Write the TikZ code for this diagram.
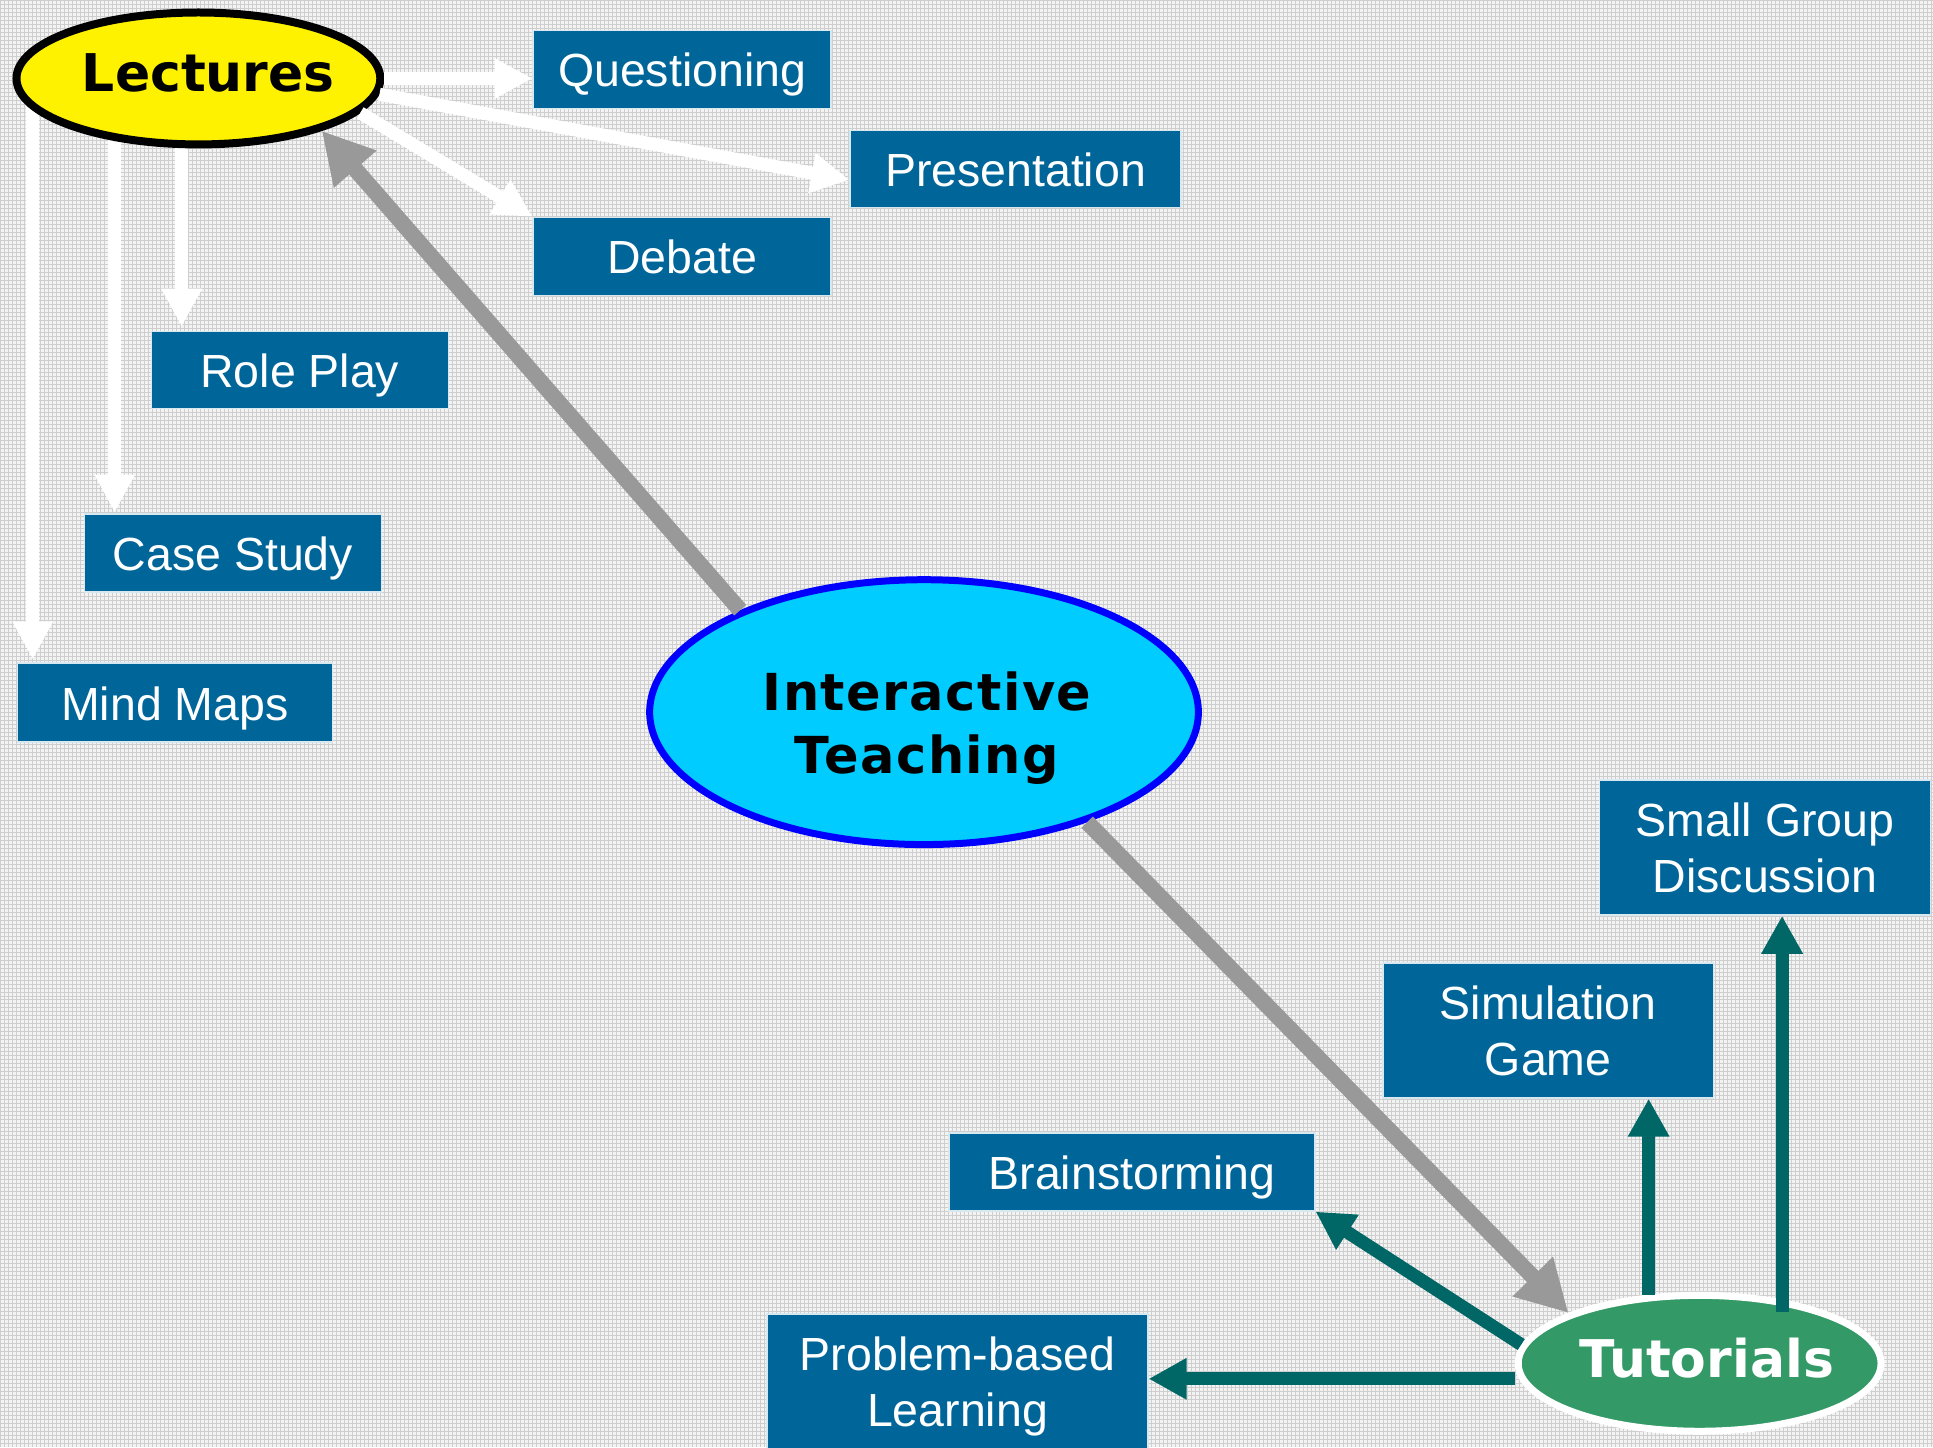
\documentclass[tikz,border=0pt]{standalone}
\usepackage{fontspec}
\setmainfont{Liberation Sans}
\newfontfamily\headfont{DejaVu Sans}
\newfontfamily\itfont{DejaVu Sans}[LetterSpace=3]
\usetikzlibrary{shapes.geometric,arrows.meta}
\definecolor{boxc}{RGB}{0,102,153}
\definecolor{boxline}{RGB}{215,232,240}
\definecolor{tealc}{RGB}{0,102,102}
\definecolor{grayc}{RGB}{153,153,153}
\definecolor{tutc}{RGB}{51,153,102}
\definecolor{itc}{RGB}{0,204,255}
\definecolor{itline}{RGB}{0,0,255}
\definecolor{bgc}{RGB}{243,243,243}
\definecolor{gridc}{RGB}{206,206,206}
\pgfdeclarelayer{bglayer}
\pgfdeclarelayer{edgelayer}
\pgfsetlayers{bglayer,edgelayer,main}
\begin{document}
\begin{tikzpicture}[x=1pt,y=-1pt,
  box/.style={rectangle, fill=boxc, draw=boxline, line width=1.5pt, inner sep=0pt,
    text=white, font=\fontsize{46.5}{56}\selectfont},
  box1/.style={box, text height=40pt, text depth=5pt},
  box2/.style={box, align=center, text depth=0pt},
  lecell/.style={ellipse, fill=yellow, draw=black, line width=8pt, inner sep=0pt,
    minimum width=364pt, minimum height=132pt},
  itell/.style={ellipse, fill=itc, draw=itline, line width=7pt, inner sep=0pt,
    minimum width=549pt, minimum height=265pt},
  tutell/.style={ellipse, fill=tutc, draw=white, line width=7pt, inner sep=0pt,
    minimum width=363pt, minimum height=136pt},
  headtext/.style={inner sep=0pt, font=\fontsize{52}{63}\headfont\bfseries},
  ittext/.style={inner sep=0pt, align=center, font=\fontsize{51}{63}\itfont\bfseries},
  warrow/.style={draw=white, line width=13pt, -{Triangle[length=38pt,width=38pt]}},
  garrow/.style={draw=grayc, line width=16pt, -{Triangle[length=51pt,width=53pt]}},
  tarrow/.style={draw=tealc, line width=13pt, -{Triangle[length=38pt,width=39pt]}}
]
\begin{pgfonlayer}{bglayer}
  \fill[bgc] (0,0) rectangle (1933,1447);
  \draw[gridc, line width=1pt] (0pt,-1447pt) grid[step=4pt] (1933pt,0pt);
\end{pgfonlayer}
\useasboundingbox (0,0) rectangle (1933,1447);

% ellipses
\node[lecell] (lec) at (198,78) {};
\node[headtext] (lect) at (208,72) {Lectures};
\node[itell] (it) at (924,712) {};
\node[ittext] (itt) at (927,728) {Interactive\\Teaching};
\node[tutell] (tut) at (1700,1363.5) {};
\node[headtext, text=white] (tutt) at (1707,1358) {Tutorials};

% boxes
\node[box1, minimum width=298pt, minimum height=78pt] (q) at (682,69) {Questioning};
\node[box1, minimum width=331pt, minimum height=77pt] (pr) at (1015.5,168.5) {Presentation};
\node[box1, minimum width=298pt, minimum height=78pt] (d) at (682,256) {Debate};
\node[box1, minimum width=297pt, minimum height=77pt] (rp) at (299.5,369.5) {Role Play};
\node[box1, minimum width=297pt, minimum height=78pt] (cs) at (232.5,553) {Case Study};
\node[box1, minimum width=315pt, minimum height=79pt] (mm) at (174.5,702.5) {Mind Maps};
\node[box2, minimum width=331pt, minimum height=135pt] (sg) at (1765.5,847.5) {Small Group\\Discussion};
\node[box2, minimum width=331pt, minimum height=135pt] (sim) at (1548.5,1030.5) {Simulation\\Game};
\node[box1, minimum width=366pt, minimum height=78pt] (bs) at (1132,1172) {Brainstorming};
\node[box2, minimum width=381pt, minimum height=135pt] (pbl) at (957.5,1381.5) {Problem-based\\Learning};

% white arrows from Lectures
\coordinate (rpT) at ([xshift=31pt,yshift=4pt]rp.north west);
\coordinate (csT) at ([xshift=31pt,yshift=1pt]cs.north west);
\coordinate (mmT) at ([xshift=16pt,yshift=3pt]mm.north west);
\begin{pgfonlayer}{edgelayer}
  \draw[warrow] (rpT |- lec.center) -- (rpT);
  \draw[warrow] (csT |- lec.center) -- (csT);
  \draw[warrow] (mmT |- lec.center) -- (mmT);
\end{pgfonlayer}
\draw[warrow] (lec.east) -- (lec.east -| q.west);
\draw[warrow] (lec.-5) -- ([yshift=-11pt]pr.west);
\draw[warrow] (lec.-12) -- (d.north west);

% grey arrows
\draw[garrow] (it.151) -- (lec.-23);
\draw[garrow] (it.-34) -- (tut.159);

% teal arrows from Tutorials
\coordinate (tw) at ([yshift=-15.5pt]tut.west);
\coordinate (ts) at ([xshift=-51pt,yshift=-3pt]tut.north);
\coordinate (tg) at ([xshift=82.5pt,yshift=-20pt]tut.north);
\draw[tarrow] (tut.174) -- (bs.south east);
\draw[tarrow] (tw) -- (tw -| pbl.east);
\draw[tarrow] (ts) -- (ts |- sim.south);
\draw[tarrow] (tg) -- (tg |- sg.south);
\end{tikzpicture}
\end{document}
